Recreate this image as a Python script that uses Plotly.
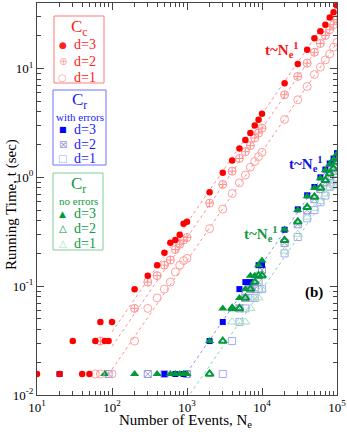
import plotly.graph_objects as go

# ---------------- data ----------------
N = [10, 20, 30, 40, 50, 60, 70, 80, 90, 100,
     200, 300, 400, 500, 600, 700, 800, 900, 1000,
     2000, 3000, 4000, 5000, 6000, 7000, 8000, 9000, 10000,
     20000, 30000, 40000, 50000, 60000, 70000, 80000, 90000, 100000]

# Cc (red)
cc_d3 = [0.0156, 0.0156, 0.0313, 0.0156, 0.0156, 0.0313, 0.0469, 0.0313, 0.0313, 0.0469,
         0.0938, 0.125, 0.156, 0.203, 0.25, 0.266, 0.297, 0.375, 0.391,
         0.73, 1.1, 1.43, 1.84, 2.2, 2.55, 3.0, 3.38, 3.84,
         7.33, 11.0, 14.9, 19.0, 22.0, 25.2, 29.5, 32.9, 38.0]
cc_d2 = [None, None, None, None, None, None, 0.0313, None, None, None,
         0.0625, 0.109, 0.125, 0.156, 0.174, 0.217, 0.243, 0.266, 0.28,
         0.58, 0.86, 1.14, 1.49, 1.72, 1.96, 2.3, 2.55, 2.83,
         5.74, 8.45, 11.2, 14.1, 17.0, 20.1, 22.7, 25.3, 28.2]
cc_d1 = [None, None, None, None, None, 0.0156, 0.0156, None, None, 0.0156,
         0.0313, 0.0625, 0.078, 0.094, 0.109, 0.135, 0.156, 0.172, 0.18,
         0.338, 0.51, 0.71, 0.89, 1.05, 1.24, 1.4, 1.55, 1.7,
         3.4, 5.16, 6.84, 8.81, 10.3, 12.0, 13.6, 15.7, 17.4]

# Cr with errors (blue)
cre_d3 = [None, 0.0156, None, None, None, None, None, None, None, None,
          None, None, None, 0.0156, None, 0.0156, None, 0.0156, None,
          0.0313, 0.0469, None, 0.094, 0.109, 0.109, None, 0.156, 0.156,
          0.33, 0.508, 0.684, 0.815, 1.0, 1.18, 1.34, 1.49, 1.67]
cre_d2 = [None, None, None, None, None, None, None, None, 0.0156, None,
          None, 0.0156, None, None, None, None, None, None, 0.0156,
          None, None, None, 0.0625, 0.078, 0.094, 0.094, 0.109, 0.141,
          0.25, 0.37, 0.5, 0.63, 0.78, 0.9, 1.03, 1.15, 1.3]
cre_d1 = [None, None, None, None, None, None, None, None, None, None,
          None, None, None, 0.0156, None, None, None, None, None,
          None, 0.0156, 0.0313, 0.0469, 0.0625, 0.078, 0.078, 0.094, 0.094,
          0.2, 0.283, 0.42, 0.5, 0.59, 0.68, 0.82, 0.86, 0.94]

# Cr no errors (green)
crn_d3 = [None, None, None, None, None, None, None, 0.0156, None, None,
          0.0156, None, 0.0156, None, 0.0156, 0.0156, 0.0156, 0.0156, 0.0156,
          0.0313, 0.0625, 0.0625, 0.078, 0.094, 0.125, 0.125, 0.156, 0.172,
          0.331, 0.5, 0.67, 0.8, 0.98, 1.16, 1.32, 1.47, 1.65]
crn_d2 = [None, None, None, None, None, None, None, None, None, None,
          None, None, None, None, None, None, None, None, None,
          0.0156, 0.0313, 0.0625, 0.0625, 0.078, 0.094, 0.109, 0.125, 0.125,
          0.264, 0.39, 0.53, 0.66, 0.8, 0.94, 1.08, 1.2, 1.38]
crn_d1 = [None, None, None, None, None, None, None, None, None, None,
          None, None, None, None, None, None, None, None, None,
          None, None, 0.0469, 0.0469, 0.0469, 0.0625, 0.078, 0.078, 0.094,
          0.21, 0.3, 0.43, 0.52, 0.6, 0.7, 0.8, 0.87, 0.95]

# fitted t ~ N^1 guide lines (end points)
fit_cc_N = [100, 100000]
fit_cc_d3 = [0.038, 38.0]
fit_cc_d2 = [0.028, 28.0]
fit_cc_d1 = [0.0172, 17.2]
fit_cr_N = [1000, 100000]
fit_cr_blue = [0.016, 1.6]
fit_cr_green = [0.0093, 0.93]

x_ticks = [10, 100, 1000, 10000, 100000]
x_ticktext = ["10<sup>1</sup>", "10<sup>2</sup>", "10<sup>3</sup>", "10<sup>4</sup>", "10<sup>5</sup>"]
y_ticks = [0.01, 0.1, 1, 10]
y_ticktext = ["10<sup>-2</sup>", "10<sup>-1</sup>", "10<sup>0</sup>", "10<sup>1</sup>"]

FONT = "Liberation Serif"
SYM = "DejaVu Sans"
W, H = 347, 432
ML, MR, MT, MB = 37, 10, 3, 37
PW, PH = W - ML - MR, H - MT - MB

RED, BLUE, GREEN = "#ff2020", "#1a1aff", "#109a40"

fig = go.Figure()

# guide lines
for xs, ys, col in [(fit_cc_N, fit_cc_d3, "#ff9090"), (fit_cc_N, fit_cc_d2, "#ff9090"),
                    (fit_cc_N, fit_cc_d1, "#ff9090"), (fit_cr_N, fit_cr_blue, "#9090ff"),
                    (fit_cr_N, fit_cr_green, "#80d8b0")]:
    fig.add_trace(go.Scatter(x=xs, y=ys, mode="lines", showlegend=False,
                             line=dict(color=col, width=1, dash="dot"), hoverinfo="skip"))


def mk(y, symbol, color, size, lw=1):
    fig.add_trace(go.Scatter(
        x=N, y=y, mode="markers", showlegend=False,
        marker=dict(symbol=symbol, color=color, size=size,
                    line=dict(color=color, width=lw))))


# blue (drawn first, below green)
mk(cre_d1, "square-open", "#a8a8ff", 7)
mk(cre_d2, "square-x-open", "#9a9ad8", 7)
mk(cre_d3, "square", "#0000ff", 6, 0)
# green
mk(crn_d1, "triangle-up-open", "#a8e0bc", 8)
mk(crn_d2, "triangle-up-open", "#009a3a", 7, 2)
mk(crn_d3, "triangle-up", "#009a3a", 8, 0)
# red
mk(cc_d1, "circle-open", "#ffa0a0", 8)
mk(cc_d2, "circle-cross-open", "#ff9090", 8)
mk(cc_d3, "circle", "#ff0000", 6.5, 0)


def px(x):
    return (x - ML) / PW


def py(y):
    return (H - MB - y) / PH


def text(t, x, y, size, color, family=FONT, xanchor="center", angle=0):
    fig.add_annotation(text=t, x=px(x), y=py(y), xref="paper", yref="paper",
                       showarrow=False, xanchor=xanchor, yanchor="middle", textangle=angle,
                       font=dict(family=family, size=size, color=color))


def box(x0, y0, x1, y1, color):
    fig.add_shape(type="rect", xref="paper", yref="paper",
                  x0=px(x0), x1=px(x1), y0=py(y0), y1=py(y1),
                  line=dict(color=color, width=1), fillcolor="rgba(0,0,0,0)")


# --- key boxes ---
box(54, 16, 104, 83, "#ff7a7a")
text("C<sub>c</sub>", 79, 28, 17, RED)
for (g, gs, lab, yy) in [("●", 9, "d=3", 44.5), ("⊕", 10, "d=2", 61), ("○", 10, "d=1", 77.5)]:
    text(g, 62.5, yy, gs, RED if lab == "d=3" else "#ffa0a0", SYM)
    text(lab, 72, yy, 14, RED, xanchor="left")

box(53, 90, 106, 165, "#7070ff")
text("C<sub>r</sub>", 79.5, 101, 17, BLUE)
text("with errors", 79.5, 116.5, 11, BLUE)
for (g, gs, col, lab, yy) in [("■", 8, "#0000ff", "d=3", 129), ("⊠", 10, "#9a9ad8", "d=2", 144),
                              ("□", 10, "#a8a8ff", "d=1", 158.5)]:
    text(g, 62.5, yy, gs, col, SYM)
    text(lab, 72, yy, 14, BLUE, xanchor="left")

box(53, 173, 103, 250, "#7ccf9a")
text("C<sub>r</sub>", 78, 185, 17, GREEN)
text("no errors", 78, 201, 11, GREEN)
for (g, gs, col, lab, yy) in [("▲", 9, "#009a3a", "d=3", 213.5), ("<b>△</b>", 10, "#009a3a", "d=2", 228.5),
                              ("△", 10, "#a8e0bc", "d=1", 243)]:
    text(g, 62.5, yy, gs, col, SYM)
    text(lab, 72, yy, 14, GREEN, xanchor="left")

# --- slope labels and panel tag ---
text("<b>t~N<sub>e</sub><sup>1</sup></b>", 282, 50, 15, "#ff1010")
text("<b>t~N<sub>e</sub><sup>1</sup></b>", 306, 164, 15, "#1010e0")
text("<b>t~N<sub>e</sub><sup>1</sup></b>", 261, 234, 15, GREEN)
text("<b>(b)</b>", 314, 292, 15, "black")

# --- axis titles ---
text("Number of Events, N<sub>e</sub>", 185, 421, 15, "black")
text("Running Time, t (sec)", 11, 205, 15, "black", angle=-90)

fig.update_layout(
    width=W, height=H,
    margin=dict(l=ML, r=MR, t=MT, b=MB, autoexpand=False),
    paper_bgcolor="white", plot_bgcolor="white",
    font=dict(family=FONT, size=13, color="black"),
    showlegend=False,
)

axis_common = dict(showline=True, linecolor="#444", linewidth=1, mirror="ticks",
                   ticks="inside", ticklen=7, tickcolor="#444", showgrid=False,
                   zeroline=False, automargin=False, tickfont=dict(family=FONT, size=13))

minor_x = [k * 10 ** e for e in range(1, 5) for k in range(2, 10)]
minor_y = [k * 10 ** e for e in range(-2, 2) for k in range(2, 10)]

fig.update_xaxes(type="log", range=[1, 5], tickvals=x_ticks, ticktext=x_ticktext,
                 minor=dict(tickvals=minor_x, ticks="inside", ticklen=4, tickcolor="#444"),
                 **axis_common)
fig.update_yaxes(type="log", range=[-2, 1.602], tickvals=y_ticks, ticktext=y_ticktext,
                 minor=dict(tickvals=minor_y, ticks="inside", ticklen=4, tickcolor="#444"),
                 **axis_common)

fig.write_html("out.html", config={"displayModeBar": False},
               post_script="document.body.style.margin='0';document.body.style.overflow='hidden';")
